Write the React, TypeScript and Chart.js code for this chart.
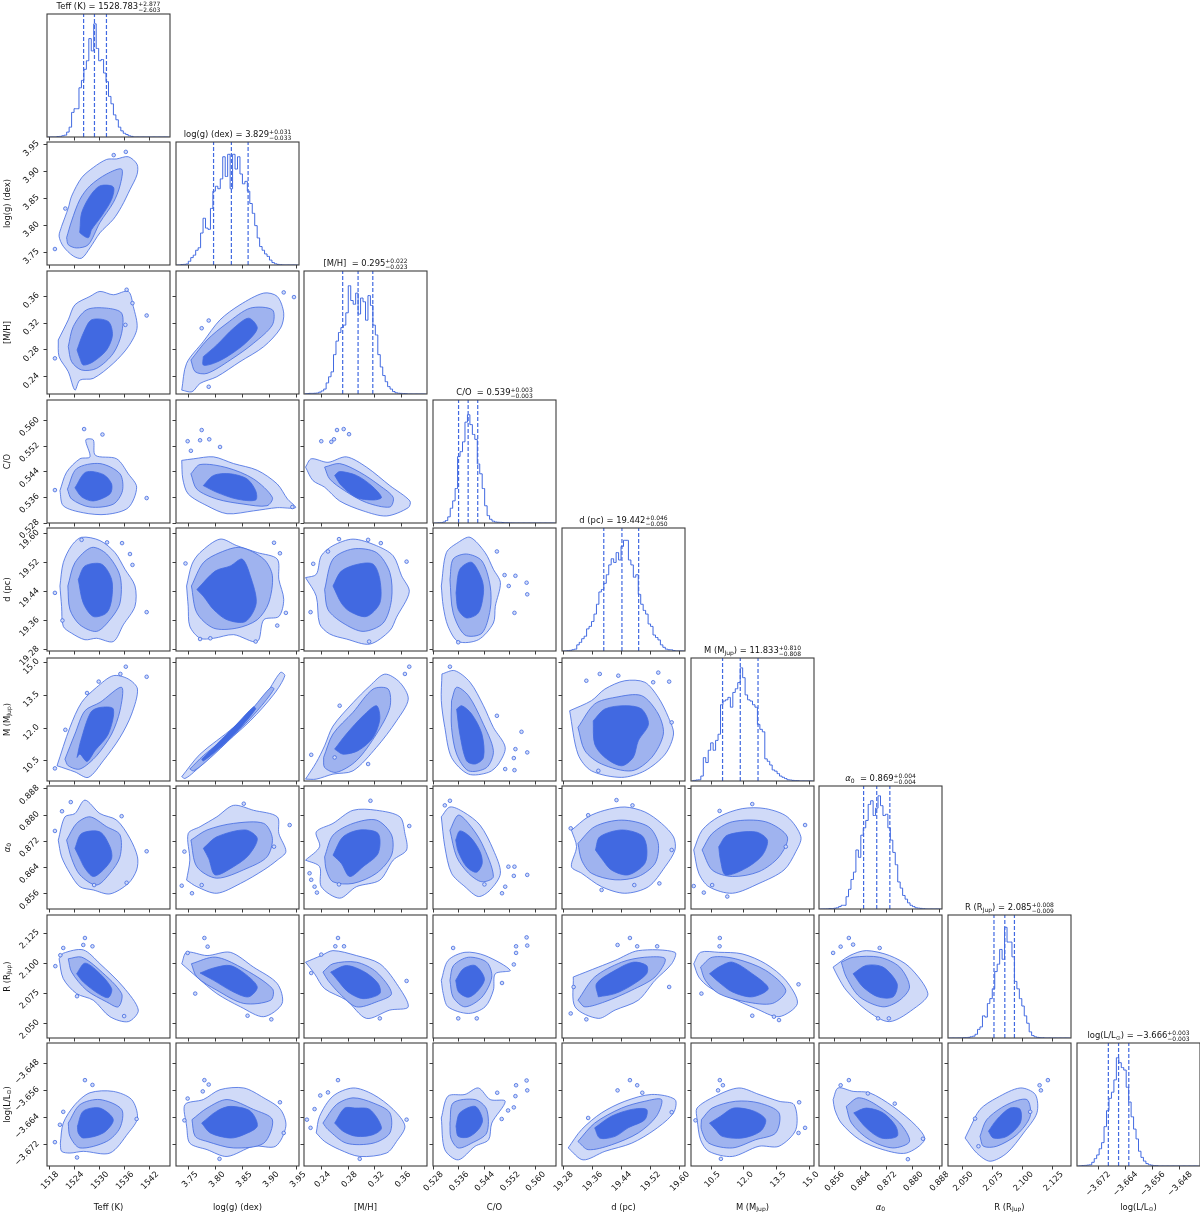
import React, { useEffect, useRef } from "react";
import { Chart, registerables } from "chart.js";

Chart.register(...registerables);

type Part = [string, number?]; // style: 0 normal, 1 subscript, 2 italic

const NAMES: Part[][] = [
  [["Teff (K)"]],
  [["log(g) (dex)"]],
  [["[M/H]"]],
  [["C/O"]],
  [["d (pc)"]],
  [["M (M"], ["Jup", 1], [")"]],
  [["α", 2], ["0", 1]],
  [["R (R"], ["Jup", 1], [")"]],
  [["log(L/L"], ["⊙", 1], [")"]],
];
const TITLE_GAP = ["", "", " ", " ", "", "", " ", "", ""];
const MEDIANS = [1528.783, 3.829, 0.295, 0.539, 19.442, 11.833, 0.869, 2.085, -3.666];
const PLUS = [2.877, 0.031, 0.022, 0.003, 0.046, 0.81, 0.004, 0.008, 0.003];
const MINUS = [2.603, 0.033, 0.023, 0.003, 0.05, 0.808, 0.004, 0.009, 0.003];

const AXIS_MIN = [1517.4, 3.7264, 0.2142, 0.528, 19.277, 9.585, 0.8514, 2.0378, -3.6782];
const AXIS_MAX = [1546.9, 3.9543, 0.398, 0.5665, 19.6156, 15.197, 0.8889, 2.14, -3.6421];
const TICKS = [
  [1518, 1524, 1530, 1536, 1542],
  [3.75, 3.8, 3.85, 3.9, 3.95],
  [0.24, 0.28, 0.32, 0.36],
  [0.528, 0.536, 0.544, 0.552, 0.56],
  [19.28, 19.36, 19.44, 19.52, 19.6],
  [10.5, 12, 13.5, 15],
  [0.856, 0.864, 0.872, 0.88, 0.888],
  [2.05, 2.075, 2.1, 2.125],
  [-3.672, -3.664, -3.656, -3.648],
];
const TICK_DECIMALS = [0, 2, 2, 3, 2, 1, 3, 3, 3];

const HIST_TEFF = [0,0,0,0,0.3,0.5,1,1.5,4,8,20,23,23,40,46,55,62,80,70,92,72,62,63,52,45,33,27,18,14,8,5,3,2,1,0.5];
const HIST_LOGG = [0,0,0.3,0.5,0.8,3,6,8,12,14,26,38,30,29,46,60,64,62,70,88,72,90,62,90,78,88,74,66,68,60,50,42,32,22,15,12,9,7,4,2,1,0.5,0.3];
const HIST_MH = [0.3,0.4,0.5,0.5,0.6,0.8,1.5,2.5,4,9,14,18,32,43,50,54,56,66,88,76,73,82,65,78,75,60,80,72,56,48,32,22,15,10,6,4,2,1,0.6,0.5,0.4,0.2];
const HIST_CO = [0,0,0.1,0.3,0.8,2,5,12,18,28,54,58,66,82,88,80,72,68,48,40,28,14,6,3,1.5,0.8,0.6,0.5,0.4,0.3,0.2,0.1];
const HIST_D = [0,0,0.2,0.5,1,1.5,5,7,10,12,18,20,24,30,38,48,50,55,62,70,75,72,80,74,85,90,90,74,70,60,62,46,38,33,30,22,20,13,11,9,5,3,1.5,1,1,0.3];
const HIST_M = [0.2,0.5,0.8,1,4,19,15,25,31,25,33,38,62,65,66,68,60,72,75,80,92,84,70,66,65,62,60,46,42,40,18,16,13,9,8,6,4,3,2,1,0.8,0.5,0.4,0.2];
const HIST_ALPHA = [0,0,0,0.1,0.3,0.4,0.6,1,2,3,3,10,16,24,30,48,42,60,66,72,85,88,76,82,92,84,76,77,66,56,46,36,22,17,11,8,5,3,2,1,0.7,0.5,0.3];
const HIST_R = [0,0,0,0,0,0.1,0.2,0.4,0.5,1,1.5,3,7,9,18,17,28,32,40,54,60,72,64,90,78,78,66,46,40,32,26,18,12,5,2,1,0.5,0.3,0.2];
const HIST_LOGL = [0,0.1,0.3,0.5,0.7,1,3,6,9,14,19,32,45,55,60,70,88,84,80,78,64,52,40,30,22,12,7,4,2,1,0.6,0.4,0.2];
const HISTS = [HIST_TEFF, HIST_LOGG, HIST_MH, HIST_CO, HIST_D, HIST_M, HIST_ALPHA, HIST_R, HIST_LOGL];

// contours: [outer, middle, inner] as flat x,y lists; B_ = isolated islands
const C_1_0 = [[1520.9,3.798,1522.5,3.832,1523.3,3.854,1525.7,3.888,1528.5,3.907,1531.7,3.922,1534.1,3.923,1536.9,3.927,1539,3.913,1539,3.894,1537.3,3.866,1535.3,3.835,1533.3,3.811,1530.1,3.786,1527.7,3.758,1525.7,3.739,1523.7,3.743,1521.3,3.761,1520.3,3.78],[1522.1,3.777,1523.3,3.808,1525.3,3.848,1527.7,3.873,1531.7,3.895,1535.3,3.904,1534.9,3.873,1533.3,3.842,1530.1,3.805,1527.3,3.764,1524.5,3.758,1522.5,3.764],[1525.3,3.792,1525.7,3.823,1527.7,3.854,1530.1,3.873,1533.3,3.871,1532.9,3.848,1530.5,3.817,1528.1,3.792,1527.3,3.777,1525.3,3.786]];
const B_1_0 = [1519.3,3.756,1521.8,3.831,1536.3,3.936,1533.4,3.93];
const C_2_0 = [[1520.1,0.295,1522.5,0.325,1524.1,0.3475,1527.7,0.36,1530.1,0.3675,1533.3,0.3625,1536.9,0.3675,1538.1,0.345,1539,0.3125,1536.9,0.285,1533.3,0.26,1528.5,0.2375,1525.3,0.235,1524.1,0.22,1522.5,0.2475,1520.3,0.27],[1522.5,0.285,1523.7,0.315,1526.9,0.34,1531.7,0.3425,1535.3,0.335,1535.3,0.305,1533.3,0.275,1529.3,0.2525,1525.7,0.25,1523.3,0.2625],[1524.6,0.28,1526.1,0.305,1528.1,0.325,1532.1,0.3225,1533.1,0.3025,1531.7,0.28,1528.5,0.2625,1526.1,0.2575,1525.3,0.2675]];
const B_2_0 = [1519.3,0.2675,1541.3,0.3315,1536.5,0.37,1537.9,0.35,1536.2,0.3175];
const C_2_1 = [[3.737,0.22,3.746,0.26,3.777,0.2925,3.808,0.325,3.845,0.3475,3.889,0.365,3.914,0.36,3.926,0.335,3.92,0.3125,3.889,0.285,3.845,0.2625,3.802,0.24,3.771,0.23,3.756,0.2175],[3.754,0.265,3.784,0.295,3.821,0.32,3.864,0.3425,3.905,0.34,3.905,0.3175,3.87,0.29,3.827,0.265,3.784,0.245,3.762,0.2475],[3.777,0.27,3.802,0.2875,3.833,0.3125,3.861,0.3275,3.877,0.3125,3.855,0.29,3.821,0.27,3.796,0.26,3.777,0.2575]];
const B_2_1 = [3.926,0.366,3.787,0.225,3.787,0.324,3.774,0.3125,3.945,0.359];
const C_3_0 = [[1520.5,0.5381,1522.1,0.5439,1525.3,0.5481,1527.7,0.5487,1526.7,0.554,1528.5,0.554,1529,0.5492,1534.1,0.5481,1536.9,0.5434,1538.9,0.5392,1536.9,0.5328,1531.7,0.5307,1526.1,0.5312,1521.3,0.5334],[1522.3,0.5386,1524.5,0.545,1530.1,0.5466,1534.9,0.5434,1535.5,0.5381,1533.3,0.5339,1527.7,0.533,1523.3,0.5355],[1524.1,0.539,1526.7,0.5439,1530.9,0.5432,1532.9,0.5402,1532.5,0.5371,1528.5,0.5349,1525.7,0.5362]];
const B_3_0 = [1519.3,0.5383,1526.3,0.5574,1541.3,0.5358,1530.7,0.5557];
const C_3_1 = [[3.737,0.5476,3.759,0.5481,3.796,0.5487,3.833,0.5466,3.877,0.5445,3.914,0.5402,3.933,0.5355,3.948,0.5328,3.914,0.5328,3.87,0.5318,3.821,0.5309,3.784,0.5334,3.749,0.5371,3.739,0.5418],[3.754,0.5434,3.771,0.5463,3.821,0.5453,3.87,0.5418,3.905,0.536,3.895,0.5334,3.852,0.5339,3.802,0.5355,3.765,0.5386],[3.777,0.5397,3.796,0.5429,3.827,0.5434,3.858,0.5418,3.874,0.5381,3.874,0.5352,3.839,0.5355,3.802,0.5376]];
const B_3_1 = [3.748,0.5536,3.774,0.5571,3.788,0.5542,3.771,0.5539,3.754,0.5506,3.942,0.533,3.808,0.5518];
const C_3_2 = [[0.2165,0.5455,0.225,0.5481,0.25,0.547,0.2775,0.5487,0.3075,0.5455,0.3425,0.5397,0.3725,0.5349,0.37,0.5328,0.3375,0.5302,0.3025,0.5318,0.2675,0.5349,0.245,0.5392,0.2275,0.5413],[0.245,0.5455,0.2675,0.5466,0.2975,0.5439,0.3275,0.5397,0.3475,0.536,0.3425,0.533,0.3075,0.5344,0.275,0.5381,0.2525,0.5418],[0.26,0.5429,0.2675,0.5441,0.2925,0.5429,0.315,0.5397,0.33,0.536,0.3175,0.5352,0.2925,0.536,0.27,0.5397]];
const B_3_2 = [0.24,0.5536,0.2635,0.5571,0.2735,0.5574,0.255,0.5534,0.259,0.5542,0.2815,0.5558];
const C_4_0 = [[1520.5,19.456,1521.3,19.52,1523.3,19.567,1525.7,19.59,1530.1,19.581,1533.7,19.548,1536.1,19.502,1538.5,19.456,1538.5,19.4,1535.7,19.349,1533.3,19.303,1529.3,19.312,1526.5,19.308,1523.3,19.326,1521.3,19.345,1520.9,19.4],[1522.4,19.456,1524.1,19.52,1528.1,19.562,1531.7,19.544,1534.9,19.484,1534.9,19.409,1532.5,19.363,1529.3,19.331,1525.3,19.349,1522.9,19.391],[1524.9,19.474,1526.5,19.511,1530.5,19.516,1532.9,19.474,1532.9,19.419,1531.7,19.382,1528.5,19.372,1526.1,19.409]];
const B_4_0 = [1525.7,19.583,1535.4,19.574,1531.8,19.576,1519.3,19.437,1521.1,19.361,1541.3,19.384,1537.3,19.544,1537.9,19.514];
const C_4_1 = [[3.746,19.456,3.756,19.516,3.771,19.548,3.808,19.585,3.839,19.567,3.877,19.548,3.914,19.53,3.917,19.474,3.926,19.419,3.917,19.372,3.889,19.363,3.877,19.303,3.833,19.322,3.796,19.312,3.771,19.312,3.752,19.345,3.749,19.4],[3.755,19.456,3.777,19.52,3.808,19.548,3.846,19.562,3.889,19.53,3.905,19.484,3.898,19.409,3.877,19.363,3.839,19.34,3.796,19.34,3.765,19.382],[3.765,19.446,3.799,19.497,3.827,19.511,3.849,19.53,3.864,19.484,3.875,19.409,3.855,19.358,3.821,19.363,3.796,19.391,3.777,19.428]];
const B_4_1 = [3.744,19.518,3.908,19.575,3.874,19.303,3.771,19.31,3.79,19.312,3.93,19.382,3.914,19.347,3.919,19.546];
const C_4_2 = [[0.2165,19.479,0.2325,19.488,0.24,19.539,0.2575,19.567,0.2875,19.585,0.3225,19.567,0.3475,19.539,0.36,19.484,0.3715,19.44,0.3525,19.37,0.3425,19.333,0.3125,19.296,0.2775,19.31,0.2525,19.324,0.2375,19.352,0.2325,19.428],[0.245,19.446,0.2575,19.53,0.2875,19.558,0.3225,19.548,0.3425,19.493,0.345,19.419,0.3325,19.354,0.3025,19.331,0.2725,19.354,0.25,19.391],[0.2575,19.456,0.27,19.497,0.295,19.516,0.3175,19.516,0.3275,19.474,0.3275,19.409,0.3075,19.372,0.2825,19.386,0.27,19.409]];
const B_4_2 = [0.228,19.517,0.2665,19.585,0.31,19.583,0.329,19.574,0.25,19.551,0.3675,19.523,0.224,19.384,0.3115,19.303];
const C_4_3 = [[0.5306,19.456,0.5322,19.548,0.5359,19.576,0.5396,19.59,0.5443,19.548,0.5469,19.502,0.5491,19.465,0.5475,19.4,0.5469,19.354,0.5422,19.308,0.5359,19.303,0.5327,19.345,0.5312,19.4],[0.5333,19.474,0.5343,19.53,0.5385,19.544,0.5433,19.525,0.5459,19.456,0.5459,19.391,0.5433,19.326,0.538,19.321,0.5343,19.382],[0.5352,19.437,0.5364,19.502,0.5401,19.521,0.5433,19.474,0.5438,19.437,0.5422,19.382,0.5385,19.368,0.5359,19.391]];
const B_4_3 = [0.548,19.551,0.5504,19.486,0.5538,19.484,0.5573,19.465,0.5575,19.433,0.5535,19.382,0.5517,19.456,0.5359,19.301];
const C_5_0 = [[1519.8,10.28,1522.9,12.03,1525.7,13.17,1529.3,13.86,1533.3,14.39,1536.9,14.24,1539.1,13.78,1537.7,12.64,1534.9,11.57,1530.9,10.51,1527.3,9.75,1524.1,10],[1521.7,10.58,1524.1,11.73,1526.5,12.79,1530.1,13.17,1535.3,13.86,1534.9,12.79,1532.9,11.73,1529.3,10.74,1525.3,10.13,1522.5,10.28],[1524.6,10.66,1525.5,11.42,1527.9,12.72,1530.1,12.94,1533.3,12.87,1532.1,11.73,1528.9,10.97,1527,10.48,1525.3,10.81]];
const B_5_0 = [1519.3,10.16,1529.8,14.12,1527,13.6,1536.3,14.8,1535,14.47,1541.3,14.34,1521.8,11.92];
const C_5_1 = [[3.737,9.78,3.771,10.81,3.833,12.03,3.889,13.4,3.92,14.54,3.928,14.39,3.908,13.55,3.864,12.33,3.802,10.97,3.759,9.98,3.743,9.7],[3.752,10.13,3.777,10.74,3.833,11.88,3.87,12.94,3.902,13.86,3.908,13.78,3.877,12.79,3.833,11.65,3.784,10.51,3.759,10.05],[3.774,10.58,3.802,11.27,3.839,12.18,3.87,12.97,3.874,12.87,3.843,11.95,3.805,11.04,3.777,10.5]];
const B_5_1: number[] = [];
const C_5_2 = [[0.2165,9.67,0.2325,10.43,0.245,11.19,0.2575,12.09,0.2875,13.16,0.3125,13.92,0.335,14.46,0.3575,14.08,0.37,13.32,0.3525,12.33,0.3225,11.12,0.2875,10.05,0.2575,9.9,0.2325,9.67],[0.2435,10.66,0.2575,11.73,0.2875,12.72,0.3175,13.78,0.34,13.78,0.3425,12.94,0.3225,11.73,0.2925,10.51,0.2625,9.98,0.245,10.2],[0.26,11.04,0.2775,11.73,0.3025,12.56,0.3225,13.02,0.3275,12.41,0.3175,11.57,0.295,10.97,0.2725,10.81]];
const B_5_2 = [0.2675,13.02,0.3715,14.8,0.365,14.47,0.31,10.36,0.225,10.78,0.26,10.66];
const C_5_3 = [[0.5308,14.47,0.5348,14.62,0.5396,14.09,0.5438,13.02,0.5469,12.03,0.5506,11.12,0.5485,10.36,0.5454,9.98,0.5391,9.9,0.5338,10.66,0.5317,12.03,0.5306,13.25],[0.5338,13.25,0.5354,13.86,0.5391,13.48,0.5433,12.33,0.5469,10.97,0.5448,10.2,0.5391,10.05,0.5354,10.81,0.5338,12.03],[0.5354,12.87,0.537,13.02,0.5401,12.64,0.5433,11.73,0.5438,10.66,0.5412,10.36,0.5385,10.51,0.5364,11.73]];
const B_5_3 = [0.5333,14.8,0.5575,10.89,0.5538,11.04,0.5533,10.63,0.5506,10.13,0.5535,10.08,0.5557,11.83,0.548,12.56];
const C_5_4 = [[19.298,12.79,19.358,13.25,19.395,13.78,19.45,14.16,19.505,14.09,19.542,13.4,19.57,12.49,19.584,11.73,19.561,10.81,19.505,10.05,19.441,9.75,19.358,10.05,19.321,10.81],[19.321,12.03,19.367,13.1,19.423,13.4,19.496,13.48,19.542,12.64,19.556,11.73,19.524,10.66,19.469,10.05,19.386,10.36,19.34,10.97],[19.363,12.33,19.395,12.87,19.45,13.02,19.496,12.87,19.515,12.18,19.487,11.42,19.473,10.66,19.441,10.28,19.395,10.66,19.367,11.27]];
const B_5_4 = [19.344,14.16,19.381,14.47,19.432,14.39,19.542,14.53,19.572,14.12,19.579,12.26,19.377,10.05,19.528,14.09];
const C_6_0 = [[1520.1,0.8724,1521.7,0.8795,1524.1,0.8805,1526.5,0.8846,1530.1,0.8805,1534.1,0.8785,1537.3,0.8729,1539.1,0.8673,1538.9,0.8633,1536.9,0.8592,1532.5,0.856,1528.5,0.8572,1525.3,0.8582,1522.9,0.8623,1520.9,0.8673],[1522.1,0.8724,1524.5,0.8775,1527.7,0.8795,1531.7,0.8765,1534.9,0.874,1534.9,0.8673,1532.5,0.8623,1529.3,0.8587,1525.3,0.8618,1523.3,0.8668],[1524.1,0.8699,1525.7,0.8744,1530.1,0.8749,1532.5,0.8704,1532.9,0.8668,1530.9,0.8633,1528.5,0.8613,1526.5,0.8638,1525.1,0.8673]];
const B_6_0 = [1519.3,0.8752,1523.1,0.884,1521,0.8812,1535.3,0.8797,1541.3,0.869,1536.5,0.8594,1528.7,0.8587];
const C_6_1 = [[3.746,0.8602,3.752,0.8663,3.749,0.8744,3.771,0.8765,3.802,0.8795,3.833,0.883,3.87,0.8815,3.914,0.8795,3.917,0.8744,3.93,0.8689,3.914,0.8663,3.889,0.8633,3.846,0.8592,3.802,0.8562,3.765,0.8582],[3.754,0.8724,3.784,0.8755,3.833,0.8775,3.889,0.8775,3.905,0.8729,3.895,0.8673,3.858,0.8638,3.802,0.8608,3.765,0.8643],[3.777,0.8699,3.802,0.8734,3.855,0.8755,3.877,0.8729,3.861,0.8678,3.833,0.8643,3.799,0.8618,3.787,0.8668]];
const B_6_1 = [3.742,0.8689,3.737,0.8585,3.756,0.8562,3.937,0.877,3.852,0.8835,3.908,0.8704,3.774,0.8587];
const C_6_2 = [[0.2165,0.8663,0.2375,0.8704,0.2325,0.8749,0.2575,0.8775,0.2875,0.8815,0.3225,0.8815,0.3575,0.8795,0.365,0.8744,0.3675,0.8694,0.3475,0.8663,0.3275,0.8602,0.2925,0.8582,0.2675,0.8547,0.24,0.8582,0.2375,0.8643],[0.245,0.8673,0.2575,0.8739,0.2875,0.8775,0.3225,0.8785,0.345,0.874,0.345,0.8678,0.3225,0.8623,0.2875,0.8592,0.2575,0.8597,0.2475,0.8633],[0.2575,0.8678,0.2725,0.8734,0.2975,0.8755,0.325,0.8744,0.325,0.8684,0.3025,0.8643,0.2825,0.8613,0.27,0.8653]];
const B_6_2 = [0.2225,0.8623,0.225,0.8603,0.2335,0.8564,0.23,0.8582,0.3715,0.8767,0.3135,0.8844,0.2665,0.8589];
const C_6_3 = [[0.5306,0.8795,0.5333,0.8825,0.5375,0.881,0.5427,0.877,0.5469,0.8694,0.5491,0.8623,0.5459,0.8572,0.5422,0.8552,0.538,0.8582,0.5338,0.8623,0.5317,0.8704],[0.5333,0.8754,0.5359,0.88,0.5391,0.8775,0.5433,0.8714,0.5469,0.8613,0.5433,0.8597,0.5391,0.8623,0.5354,0.8673],[0.5351,0.8724,0.5364,0.8752,0.5396,0.8734,0.5427,0.8689,0.5434,0.8653,0.5416,0.8626,0.5385,0.8643,0.5359,0.8689]];
const B_6_3 = [0.5317,0.883,0.5333,0.8844,0.5516,0.8643,0.5535,0.8643,0.5533,0.8615,0.5575,0.8618,0.5496,0.8562,0.5506,0.8582,0.5441,0.8589];
const C_6_4 = [[19.303,0.8754,19.349,0.8795,19.395,0.8815,19.45,0.8825,19.505,0.881,19.551,0.8775,19.584,0.8734,19.588,0.8694,19.561,0.8643,19.515,0.8582,19.45,0.8562,19.386,0.8582,19.331,0.8623,19.303,0.8643,19.317,0.8704],[19.321,0.8714,19.367,0.8765,19.441,0.8785,19.515,0.8765,19.542,0.8714,19.533,0.8653,19.487,0.8613,19.423,0.8603,19.358,0.8623,19.331,0.8663],[19.369,0.8694,19.381,0.8734,19.441,0.8755,19.496,0.8739,19.51,0.8704,19.505,0.8653,19.459,0.8618,19.413,0.8633,19.386,0.8668]];
const B_6_4 = [19.301,0.876,19.427,0.8846,19.471,0.883,19.386,0.8572,19.545,0.8592,19.476,0.8587,19.579,0.8694,19.349,0.88];
const C_6_5 = [[9.71,0.8694,10.09,0.8754,10.85,0.8795,11.92,0.882,12.99,0.882,13.98,0.8795,14.6,0.8734,14.37,0.8689,13.83,0.8633,12.69,0.8592,11.47,0.8562,10.4,0.8582,9.94,0.8623],[10.09,0.8694,10.55,0.8744,11.47,0.878,12.99,0.878,13.98,0.8734,13.6,0.8673,12.69,0.8628,11.47,0.8613,10.55,0.8633],[10.85,0.8704,11.24,0.8739,12.53,0.8749,13.07,0.8724,12.84,0.8678,12.08,0.8638,11.16,0.8618,10.93,0.8663]];
const B_6_5 = [9.71,0.8584,10.17,0.8564,10.55,0.8587,14.79,0.877,12.38,0.8834,11.24,0.8552,13.91,0.8704,10.89,0.8813];
const C_7_0 = [[1520.3,2.1036,1521.3,2.1082,1526.1,2.111,1530.1,2.0995,1535.7,2.0802,1539.3,2.061,1536.9,2.0514,1532.5,2.0555,1528.5,2.0692,1524.5,2.0747,1521.3,2.0871],[1522.5,2.1036,1525.7,2.105,1530.1,2.094,1535.3,2.0747,1534.5,2.0637,1531.7,2.0678,1526.9,2.0775,1523.3,2.0926],[1524.5,2.0912,1526.5,2.1,1529.7,2.0926,1532.9,2.0788,1532.1,2.0714,1529.7,2.0747,1526.1,2.0843]];
const B_7_0 = [1519.4,2.0975,1526.5,2.1209,1521.3,2.1126,1520.6,2.1066,1526.1,2.1151,1528.3,2.114,1524.6,2.0725,1535.9,2.056];
const C_7_1 = [[3.737,2.0995,3.746,2.109,3.784,2.1063,3.827,2.109,3.87,2.0967,3.914,2.083,3.923,2.0665,3.889,2.0555,3.846,2.0637,3.802,2.0747,3.765,2.0885],[3.755,2.0995,3.799,2.105,3.846,2.0967,3.905,2.0788,3.902,2.0692,3.852,2.0665,3.802,2.0775,3.765,2.0885],[3.771,2.0918,3.796,2.096,3.827,2.098,3.858,2.0898,3.877,2.08,3.861,2.072,3.833,2.076,3.796,2.0857]];
const B_7_1 = [3.748,2.1085,3.762,2.0747,3.779,2.1209,3.785,2.1137,3.903,2.0533,3.859,2.0563];
const C_7_2 = [[0.2165,2.1008,0.24,2.1063,0.2575,2.1104,0.2925,2.1063,0.3275,2.0995,0.3525,2.083,0.37,2.0637,0.3425,2.061,0.3075,2.0541,0.2775,2.0692,0.245,2.0788,0.23,2.0912],[0.2425,2.0926,0.2575,2.0995,0.2925,2.1008,0.3225,2.0926,0.345,2.0747,0.3225,2.0678,0.2925,2.0637,0.2675,2.0747,0.25,2.0857],[0.254,2.0926,0.2775,2.098,0.305,2.0926,0.325,2.083,0.3275,2.0747,0.3025,2.0705,0.28,2.0761,0.2625,2.0871]];
const B_7_2 = [0.265,2.1209,0.274,2.114,0.261,2.114,0.24,2.1071,0.225,2.0918,0.3675,2.0852,0.3275,2.0541];
const C_7_3 = [[0.5306,2.0857,0.5327,2.1022,0.538,2.109,0.5443,2.1063,0.5522,2.094,0.5475,2.0912,0.5469,2.0775,0.5443,2.0637,0.5391,2.0582,0.5327,2.0637,0.5312,2.0747],[0.5333,2.0857,0.5344,2.098,0.5391,2.1049,0.5448,2.1008,0.5464,2.0885,0.5433,2.0717,0.538,2.0637,0.5343,2.0717],[0.5351,2.0857,0.5375,2.0953,0.5412,2.098,0.5441,2.0871,0.5422,2.0775,0.5391,2.0717,0.536,2.0761]];
const B_7_3 = [0.5573,2.1214,0.5575,2.1146,0.554,2.114,0.554,2.1085,0.5533,2.0989,0.5496,2.0835,0.5343,2.1126,0.5417,2.0541,0.5359,2.0541];
const C_7_4 = [[19.308,2.0885,19.377,2.0967,19.423,2.1022,19.487,2.1104,19.588,2.109,19.579,2.0995,19.533,2.0857,19.487,2.0692,19.423,2.061,19.377,2.0541,19.313,2.0637],[19.321,2.0692,19.367,2.0885,19.441,2.1008,19.505,2.1049,19.561,2.1036,19.533,2.0885,19.469,2.0775,19.395,2.0679,19.34,2.0637],[19.377,2.072,19.372,2.083,19.423,2.094,19.473,2.1008,19.51,2.098,19.51,2.0912,19.469,2.0816,19.423,2.0747]];
const B_7_4 = [19.301,2.0582,19.344,2.0533,19.309,2.0802,19.43,2.1151,19.464,2.1209,19.484,2.114,19.572,2.0802,19.539,2.114];
const C_7_5 = [[9.71,2.0995,10.02,2.109,10.85,2.109,11.92,2.1077,12.99,2.0995,13.91,2.0857,14.44,2.0665,13.6,2.0555,12.53,2.0624,11.31,2.072,10.4,2.0802,9.94,2.0885],[10.02,2.0967,10.55,2.1049,11.62,2.1036,12.99,2.094,13.91,2.0775,13.3,2.0665,12.08,2.0679,10.85,2.0747,10.24,2.0857],[10.43,2.0912,10.85,2.0967,11.47,2.1008,12.38,2.0912,13.11,2.079,12.38,2.072,11.47,2.0761,10.85,2.0843]];
const B_7_5 = [10.9,2.1209,10.89,2.114,10.06,2.0747,14.49,2.0824,12.38,2.0563,13.6,2.0527,13.37,2.0555];
const C_7_6 = [[0.8557,2.0967,0.8608,2.1063,0.8658,2.1104,0.8729,2.1063,0.879,2.0967,0.8846,2.0747,0.8811,2.0637,0.8729,2.0514,0.8658,2.061,0.8597,2.0775,0.8572,2.0885],[0.8582,2.1008,0.8618,2.1049,0.8699,2.1049,0.876,2.0967,0.879,2.0802,0.876,2.0692,0.8709,2.0637,0.8638,2.072,0.8597,2.0885],[0.8618,2.0912,0.8658,2.0981,0.8709,2.0967,0.8752,2.083,0.874,2.072,0.8694,2.072,0.8648,2.0802]];
const B_7_6 = [0.8605,2.1209,0.858,2.1137,0.8618,2.1154,0.8557,2.1085,0.8694,2.0541,0.8727,2.0541,0.8699,2.1126];
const C_8_0 = [[1520.6,-3.6715,1521.3,-3.6656,1524.1,-3.6602,1527.7,-3.6567,1533.3,-3.6563,1537.7,-3.6587,1539.1,-3.6641,1536.9,-3.6685,1532.5,-3.6744,1526.1,-3.6739,1522.9,-3.6744,1520.9,-3.6739],[1522.5,-3.6656,1525.3,-3.6602,1530.1,-3.6587,1535.3,-3.6616,1534.9,-3.667,1531.7,-3.671,1525.3,-3.6729,1522.9,-3.6695],[1524.7,-3.6665,1526.1,-3.6621,1530.1,-3.6612,1533.3,-3.6646,1530.9,-3.6685,1526.1,-3.67,1524.9,-3.6685]];
const B_8_0 = [1519.3,-3.6712,1526.5,-3.653,1521.3,-3.6623,1528.3,-3.6544,1524.6,-3.6757,1520.5,-3.6661,1538.9,-3.6644];
const C_8_1 = [[3.746,-3.6665,3.743,-3.6602,3.777,-3.6587,3.808,-3.6558,3.852,-3.6553,3.889,-3.6582,3.92,-3.6616,3.93,-3.6665,3.911,-3.6724,3.87,-3.6724,3.821,-3.6754,3.784,-3.6734,3.752,-3.6715],[3.756,-3.6646,3.784,-3.6612,3.821,-3.6587,3.87,-3.6616,3.905,-3.6646,3.889,-3.6715,3.833,-3.6729,3.784,-3.671,3.762,-3.6695],[3.774,-3.6656,3.802,-3.6621,3.827,-3.6607,3.864,-3.6621,3.877,-3.6665,3.852,-3.669,3.827,-3.67,3.79,-3.6685]];
const B_8_1 = [3.742,-3.6648,3.807,-3.6761,3.779,-3.653,3.787,-3.6543,3.919,-3.6595,3.776,-3.6563,3.926,-3.6685,3.748,-3.6584];
const C_8_2 = [[0.2325,-3.6685,0.2375,-3.6636,0.2575,-3.6577,0.2875,-3.6553,0.3175,-3.6572,0.3475,-3.6616,0.365,-3.6665,0.3525,-3.671,0.3375,-3.6744,0.2975,-3.6754,0.2675,-3.6734,0.245,-3.671],[0.2425,-3.6656,0.2625,-3.6602,0.2875,-3.6582,0.3175,-3.6597,0.3425,-3.6626,0.3425,-3.6685,0.3175,-3.6715,0.2775,-3.6715,0.25,-3.6675],[0.26,-3.6656,0.275,-3.6612,0.29,-3.6612,0.3125,-3.6616,0.33,-3.667,0.3175,-3.669,0.2925,-3.6695,0.2725,-3.668]];
const B_8_2 = [0.2185,-3.6646,0.23,-3.6615,0.2975,-3.6761,0.25,-3.6566,0.265,-3.653,0.3675,-3.6646,0.224,-3.667,0.2385,-3.6575];
const C_8_3 = [[0.5306,-3.6641,0.5327,-3.6577,0.538,-3.6572,0.5422,-3.6553,0.5459,-3.6587,0.5506,-3.6592,0.5464,-3.6656,0.5454,-3.6705,0.5412,-3.6724,0.5359,-3.6764,0.5317,-3.6734],[0.5333,-3.6656,0.5343,-3.6597,0.5412,-3.6587,0.5448,-3.6616,0.5448,-3.6685,0.5401,-3.6715,0.5359,-3.6729,0.5336,-3.67],[0.5352,-3.6665,0.5364,-3.6626,0.5412,-3.6607,0.5435,-3.6646,0.5422,-3.6675,0.5391,-3.6697,0.5359,-3.6695]];
const B_8_3 = [0.5573,-3.6531,0.5575,-3.656,0.554,-3.6545,0.5481,-3.6567,0.5538,-3.6577,0.5533,-3.661,0.5515,-3.6619,0.5495,-3.6644];
const C_8_4 = [[19.294,-3.6729,19.331,-3.6675,19.386,-3.6626,19.45,-3.6592,19.524,-3.6572,19.588,-3.6587,19.584,-3.6626,19.533,-3.6675,19.469,-3.6715,19.395,-3.6739,19.335,-3.6764],[19.321,-3.671,19.367,-3.6656,19.441,-3.6612,19.505,-3.6592,19.551,-3.6587,19.537,-3.6636,19.487,-3.6685,19.413,-3.672,19.349,-3.6734],[19.367,-3.667,19.413,-3.6636,19.469,-3.6616,19.51,-3.6616,19.505,-3.6646,19.459,-3.667,19.423,-3.6695,19.381,-3.67]];
const B_8_4 = [19.43,-3.656,19.464,-3.653,19.484,-3.6545,19.579,-3.6624,19.349,-3.6641,19.498,-3.6567];
const C_8_5 = [[9.86,-3.6646,9.86,-3.6612,10.7,-3.6577,11.77,-3.6553,12.69,-3.6572,13.6,-3.6592,14.29,-3.6602,14.37,-3.6675,13.6,-3.6724,12.69,-3.6724,11.47,-3.6754,10.4,-3.6739,10.02,-3.6705],[10.06,-3.6646,10.55,-3.6612,11.62,-3.6592,12.69,-3.6597,13.6,-3.6626,13.45,-3.6685,12.53,-3.6705,11.47,-3.6729,10.4,-3.6715,10.06,-3.6675],[10.43,-3.6656,10.93,-3.6636,11.54,-3.6612,12.46,-3.6621,12.99,-3.6646,12.76,-3.668,11.92,-3.67,11.01,-3.6695,10.7,-3.6675]];
const B_8_5 = [10.9,-3.653,11.04,-3.6545,10.95,-3.6761,14.49,-3.6685,14.79,-3.667,9.79,-3.6648,14.52,-3.6595,10.82,-3.656];
const C_8_6 = [[0.8557,-3.6587,0.8572,-3.6553,0.8618,-3.6563,0.8668,-3.6567,0.8739,-3.6607,0.8811,-3.6665,0.8836,-3.6705,0.878,-3.6744,0.8709,-3.6734,0.8638,-3.6705,0.8582,-3.6656,0.8562,-3.6616],[0.8597,-3.6607,0.8633,-3.6582,0.8679,-3.6597,0.876,-3.6656,0.879,-3.671,0.8739,-3.6729,0.8668,-3.6705,0.8613,-3.6656],[0.862,-3.6626,0.8658,-3.6612,0.8709,-3.6626,0.8748,-3.6665,0.8752,-3.6695,0.8704,-3.67,0.8658,-3.667]];
const B_8_6 = [0.858,-3.6545,0.8605,-3.653,0.8663,-3.6569,0.8745,-3.6599,0.8785,-3.6762,0.8831,-3.6702];
const C_8_7 = [[2.052,-3.67,2.0561,-3.667,2.0644,-3.6616,2.0783,-3.6582,2.0978,-3.6553,2.1103,-3.6572,2.1117,-3.6626,2.1006,-3.6685,2.0867,-3.6744,2.0728,-3.6768,2.0617,-3.6744],[2.0644,-3.6695,2.07,-3.6646,2.0867,-3.6602,2.1033,-3.6587,2.1061,-3.6636,2.095,-3.669,2.0783,-3.6724,2.0672,-3.6724],[2.0714,-3.668,2.0783,-3.6646,2.0894,-3.6612,2.0978,-3.6616,2.0978,-3.6656,2.0867,-3.6695,2.0756,-3.67]];
const B_8_7 = [2.1139,-3.6545,2.1208,-3.653,2.115,-3.656,2.0603,-3.6643,2.0631,-3.6724,2.1061,-3.6623];

const CONTOURS: number[][][][] = [
  [],
  [C_1_0],
  [C_2_0, C_2_1],
  [C_3_0, C_3_1, C_3_2],
  [C_4_0, C_4_1, C_4_2, C_4_3],
  [C_5_0, C_5_1, C_5_2, C_5_3, C_5_4],
  [C_6_0, C_6_1, C_6_2, C_6_3, C_6_4, C_6_5],
  [C_7_0, C_7_1, C_7_2, C_7_3, C_7_4, C_7_5, C_7_6],
  [C_8_0, C_8_1, C_8_2, C_8_3, C_8_4, C_8_5, C_8_6, C_8_7],
];
const ISLANDS: number[][][] = [
  [],
  [B_1_0],
  [B_2_0, B_2_1],
  [B_3_0, B_3_1, B_3_2],
  [B_4_0, B_4_1, B_4_2, B_4_3],
  [B_5_0, B_5_1, B_5_2, B_5_3, B_5_4],
  [B_6_0, B_6_1, B_6_2, B_6_3, B_6_4, B_6_5],
  [B_7_0, B_7_1, B_7_2, B_7_3, B_7_4, B_7_5, B_7_6],
  [B_8_0, B_8_1, B_8_2, B_8_3, B_8_4, B_8_5, B_8_6, B_8_7],
];

const FONT = '"DejaVu Sans"';
const BLUE = "#4169e1";
const LEVEL_FILLS = ["#d0daf8", "#9fb3ef", BLUE];
const AXIS_COLOR = "#3c3c3c";
const PANEL_LEFT = [47, 176, 304, 433, 562, 691, 819, 948, 1077];
const PANEL_TOP = [14, 142, 271, 400, 528, 658, 786, 915, 1043];
const PANEL = 123;
const ML = 47, MR = 6, MT = 14, MB = 46;
const X_LABEL_OFFSET = [8, 8, 8, 9, 9, 8, 9, 9, 11];
const TICK_SIZE = 8.4;

const pairs = (flat: number[], close = false) => {
  const out: { x: number; y: number }[] = [];
  for (let i = 0; i + 1 < flat.length; i += 2) out.push({ x: flat[i], y: flat[i + 1] });
  if (close && out.length) out.push(out[0]);
  return out;
};

const fmt = (v: number, d: number) => v.toFixed(d).replace("-", "\u2212");

function drawParts(ctx: CanvasRenderingContext2D, parts: Part[], size: number, x: number, y: number) {
  let cx = x;
  for (const [t, style] of parts) {
    const s = style === 1 ? size * 0.72 : size;
    ctx.font = `${style === 2 ? "italic " : ""}${s}px ${FONT}`;
    ctx.fillText(t, cx, style === 1 ? y + size * 0.18 : y);
    cx += ctx.measureText(t).width;
  }
  return cx;
}
function widthParts(ctx: CanvasRenderingContext2D, parts: Part[], size: number) {
  let w = 0;
  for (const [t, style] of parts) {
    const s = style === 1 ? size * 0.72 : size;
    ctx.font = `${style === 2 ? "italic " : ""}${s}px ${FONT}`;
    w += ctx.measureText(t).width;
  }
  return w;
}

function makePlugin(row: number, col: number) {
  return {
    id: "panelFrame",
    afterDraw(chart: any) {
      const { ctx, chartArea: a } = chart;
      ctx.save();
      ctx.strokeStyle = AXIS_COLOR;
      ctx.lineWidth = 1.1;
      ctx.strokeRect(a.left, a.top, a.right - a.left, a.bottom - a.top);
      ctx.fillStyle = "#111";
      ctx.textBaseline = "alphabetic";
      ctx.textAlign = "left";
      const size = 8.4;
      if (row === col) {
        const main: Part[] = [...NAMES[col], [TITLE_GAP[col] + " = " + fmt(MEDIANS[col], 3)]];
        const small = 6;
        const plus = "+" + PLUS[col].toFixed(3);
        const minus = "\u2212" + MINUS[col].toFixed(3);
        ctx.font = `${small}px ${FONT}`;
        const sw = Math.max(ctx.measureText(plus).width, ctx.measureText(minus).width);
        const tw = widthParts(ctx, main, size) + sw;
        const x0 = (a.left + a.right) / 2 - tw / 2;
        const end = drawParts(ctx, main, size, x0, a.top - 5);
        ctx.font = `${small}px ${FONT}`;
        ctx.fillText(plus, end, a.top - 7.6);
        ctx.fillText(minus, end, a.top - 2.2);
      }
      if (row === 8) {
        const w = widthParts(ctx, NAMES[col], size);
        drawParts(ctx, NAMES[col], size, (a.left + a.right) / 2 - w / 2, a.bottom + 43.5);
      }
      if (col === 0 && row > 0) {
        const w = widthParts(ctx, NAMES[row], size);
        ctx.translate(9.5, (a.top + a.bottom) / 2);
        ctx.rotate(-Math.PI / 2);
        drawParts(ctx, NAMES[row], size, -w / 2, 0);
      }
      ctx.restore();
    },
  };
}

function xScale(row: number, col: number) {
  return {
    type: "linear",
    position: "bottom",
    min: AXIS_MIN[col],
    max: AXIS_MAX[col],
    afterBuildTicks: (s: any) => { s.ticks = TICKS[col].map((v) => ({ value: v })); },
    afterFit: (s: any) => { s.height = MB; s.paddingLeft = 0; s.paddingRight = 0; },
    border: { display: false },
    grid: { display: true, drawOnChartArea: false, drawTicks: true, tickLength: 3.5, color: AXIS_COLOR, lineWidth: 1 },
    ticks: {
      display: row === 8,
      autoSkip: false,
      minRotation: 45,
      maxRotation: 45,
      padding: 0,
      labelOffset: X_LABEL_OFFSET[col],
      color: "#111",
      font: { family: FONT, size: TICK_SIZE },
      callback: (v: number) => fmt(Number(v), TICK_DECIMALS[col]),
    },
  };
}

function yScale(row: number, col: number) {
  if (row === col) {
    return {
      type: "linear",
      position: "left",
      min: 0,
      max: 100,
      afterFit: (s: any) => { s.width = ML; s.paddingTop = 0; s.paddingBottom = 0; },
      border: { display: false },
      grid: { display: false },
      ticks: { display: false },
    };
  }
  return {
    type: "linear",
    position: "left",
    min: AXIS_MIN[row],
    max: AXIS_MAX[row],
    afterBuildTicks: (s: any) => { s.ticks = TICKS[row].map((v) => ({ value: v })); },
    afterFit: (s: any) => { s.width = ML; s.paddingTop = 0; s.paddingBottom = 0; },
    border: { display: false },
    grid: { display: true, drawOnChartArea: false, drawTicks: true, tickLength: 3.5, color: AXIS_COLOR, lineWidth: 1 },
    ticks: {
      display: col === 0,
      autoSkip: false,
      minRotation: 45,
      maxRotation: 45,
      padding: 5.5,
      labelOffset: -2.4,
      color: "#111",
      font: { family: FONT, size: TICK_SIZE },
      callback: (v: number) => fmt(Number(v), TICK_DECIMALS[row]),
    },
  };
}

function histDatasets(col: number) {
  const step = (AXIS_MAX[col] - AXIS_MIN[col]) / 50;
  const data: { x: number; y: number }[] = [];
  for (let i = 0; i < 50; i++) data.push({ x: AXIS_MIN[col] + (i + 0.5) * step, y: HISTS[col][i] ?? 0 });
  const lines = [MEDIANS[col] - MINUS[col], MEDIANS[col], MEDIANS[col] + PLUS[col]].map((v) => ({
    data: [{ x: v, y: 0 }, { x: v, y: 100 }],
    borderColor: BLUE,
    borderWidth: 1.2,
    borderDash: [4, 2],
    pointRadius: 0,
    fill: false,
    order: 0,
  }));
  return [
    { data, borderColor: BLUE, borderWidth: 1, stepped: "middle", pointRadius: 0, fill: false, order: 1 },
    ...lines,
  ];
}

function contourDatasets(row: number, col: number) {
  const levels = CONTOURS[row][col];
  const sets: any[] = levels.map((flat, i) => ({
    data: pairs(flat, true),
    borderColor: BLUE,
    borderWidth: 0.8,
    backgroundColor: LEVEL_FILLS[i],
    fill: "shape",
    tension: 0.3,
    pointRadius: 0,
    order: 3 - i,
  }));
  sets.push({
    data: pairs(ISLANDS[row][col]),
    showLine: false,
    pointRadius: 1.8,
    pointBorderWidth: 0.8,
    pointBorderColor: BLUE,
    pointBackgroundColor: LEVEL_FILLS[0],
    fill: false,
    order: 0,
  });
  return sets;
}

export default function App() {
  const holder = useRef<HTMLDivElement>(null);
  useEffect(() => {
    document.body.style.margin = "0";
    const charts: Chart[] = [];
    const root = holder.current!;
    for (let row = 0; row < 9; row++) {
      for (let col = 0; col <= row; col++) {
        const canvas = document.createElement("canvas");
        const w = ML + PANEL + MR;
        const h = MT + PANEL + MB;
        canvas.width = w;
        canvas.height = h;
        canvas.style.cssText = `position:absolute;left:${PANEL_LEFT[col] - ML}px;top:${PANEL_TOP[row] - MT}px;width:${w}px;height:${h}px;`;
        root.appendChild(canvas);
        charts.push(
          new Chart(canvas, {
            type: "line",
            data: { datasets: (row === col ? histDatasets(col) : contourDatasets(row, col)) as any },
            options: {
              animation: false,
              responsive: false,
              devicePixelRatio: 1,
              events: [],
              layout: { padding: { left: 0, top: MT, right: MR, bottom: 0 } },
              plugins: { legend: { display: false }, title: { display: false }, tooltip: { enabled: false } },
              scales: { x: xScale(row, col), y: yScale(row, col) } as any,
            },
            plugins: [makePlugin(row, col)],
          } as any)
        );
      }
    }
    return () => {
      charts.forEach((c) => { const el = c.canvas; c.destroy(); el.remove(); });
    };
  }, []);
  return <div ref={holder} style={{ position: "absolute", left: 0, top: 0, width: 1200, height: 1212, overflow: "hidden", background: "#fff" }} />;
}
